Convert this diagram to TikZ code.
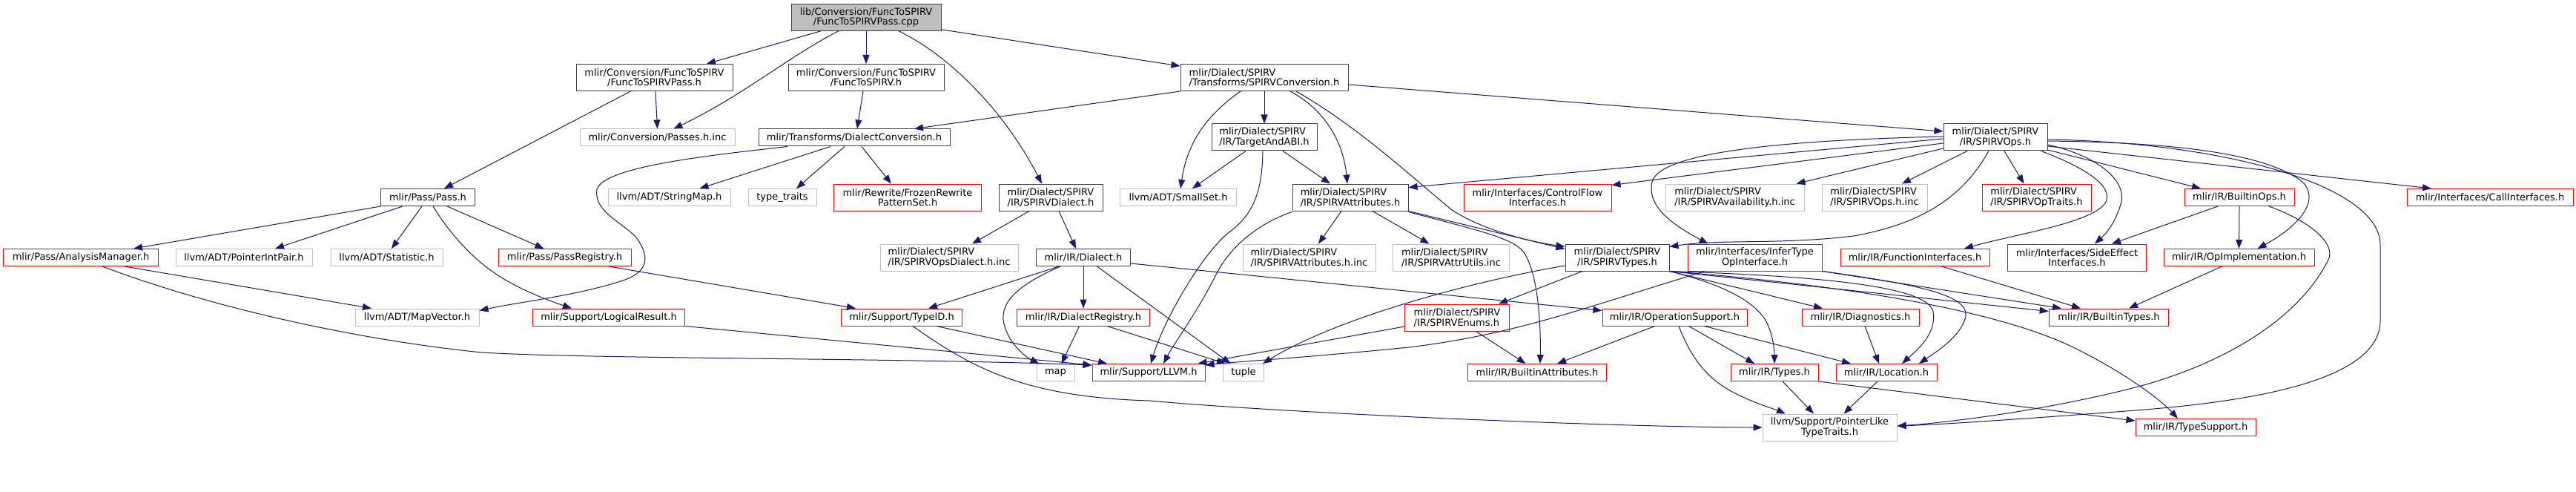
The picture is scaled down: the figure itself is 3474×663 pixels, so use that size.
\documentclass[tikz,border=0pt]{standalone}
\usepackage{fontspec}
\setmainfont{DejaVu Sans}
\usetikzlibrary{arrows.meta}
\definecolor{edgec}{HTML}{191970}
\definecolor{nblk}{HTML}{404040}
\definecolor{ngry}{HTML}{BFBFBF}
\definecolor{nred}{HTML}{FF0000}
\begin{document}
\begin{tikzpicture}[x=1pt,y=-1pt,
 box/.style={rectangle,inner sep=0pt,line width=1pt,align=center,font=\fontsize{13}{13.4}\selectfont,fill=white,text=black},
 nb/.style={box,draw=nblk}, ng/.style={box,draw=ngry}, nr/.style={box,draw=nred},
 sa/.style={minimum height=23pt}, sb/.style={minimum height=36pt},
 e/.style={draw=edgec,line width=1pt,-{Triangle[length=12pt,width=9pt]}}]
\useasboundingbox (0,0) rectangle (3474,663);
% row 1
\node[nb,sb,fill=ngry,minimum width=202pt] (root) at (1168,23.3) {lib/Conversion/FuncToSPIRV\\/FuncToSPIRVPass.cpp};
% row 2
\node[nb,sb,minimum width=211pt] (passh) at (882.5,104.5) {mlir/Conversion/FuncToSPIRV\\/FuncToSPIRVPass.h};
\node[nb,sb,minimum width=210pt] (f2s) at (1168,104.5) {mlir/Conversion/FuncToSPIRV\\/FuncToSPIRV.h};
\node[nb,sb,minimum width=226pt,align=left] (conv) at (1705,104.5) {mlir/Dialect/SPIRV\\/Transforms/SPIRVConversion.h};
% row 3
\node[ng,sa,minimum width=209pt] (passinc) at (886.5,185.5) {mlir/Conversion/Passes.h.inc};
\node[nb,sa,minimum width=258pt] (dconv) at (1152,185.5) {mlir/Transforms/DialectConversion.h};
\node[nb,sb,minimum width=142pt,align=left] (tabi) at (1705,185) {mlir/Dialect/SPIRV\\/IR/TargetAndABI.h};
\node[nb,sb,minimum width=140pt] (ops) at (2691,185) {mlir/Dialect/SPIRV\\/IR/SPIRVOps.h};
% row 4
\node[nb,sa,minimum width=126.5pt] (pass) at (577,266) {mlir/Pass/Pass.h};
\node[ng,sa,minimum width=165pt] (strmap) at (902.5,266) {llvm/ADT/StringMap.h};
\node[ng,sa,minimum width=92pt] (tt) at (1055,266) {type\_traits};
\node[nr,sb,minimum width=198.5pt] (frozen) at (1224,266) {mlir/Rewrite/FrozenRewrite\\PatternSet.h};
\node[nb,sb,minimum width=140pt,align=left] (sdial) at (1417,266) {mlir/Dialect/SPIRV\\/IR/SPIRVDialect.h};
\node[ng,sa,minimum width=156.5pt] (smallset) at (1589,266) {llvm/ADT/SmallSet.h};
\node[nb,sb,minimum width=156pt,align=left] (sattr) at (1821,266) {mlir/Dialect/SPIRV\\/IR/SPIRVAttributes.h};
\node[nr,sb,minimum width=199pt] (cf) at (2073.5,266) {mlir/Interfaces/ControlFlow\\Interfaces.h};
\node[ng,sb,minimum width=187pt,align=left] (avail) at (2339.5,266) {mlir/Dialect/SPIRV\\/IR/SPIRVAvailability.h.inc};
\node[ng,sb,minimum width=142pt,align=left] (opsinc) at (2528,266) {mlir/Dialect/SPIRV\\/IR/SPIRVOps.h.inc};
\node[nr,sb,minimum width=147pt,align=left] (optraits) at (2746.5,266) {mlir/Dialect/SPIRV\\/IR/SPIRVOpTraits.h};
\node[nr,sa,minimum width=148pt] (bops) at (3020,266) {mlir/IR/BuiltinOps.h};
\node[nr,sa,minimum width=224pt] (call) at (3358,266) {mlir/Interfaces/CallInterfaces.h};
% row 5
\node[nr,sa,minimum width=208.5pt] (am) at (109,347) {mlir/Pass/AnalysisManager.h};
\node[ng,sa,minimum width=184pt] (pip) at (329,347) {llvm/ADT/PointerIntPair.h};
\node[ng,sa,minimum width=151pt] (stat) at (521.5,347) {llvm/ADT/Statistic.h};
\node[nr,sa,minimum width=179pt] (preg) at (761.5,347) {mlir/Pass/PassRegistry.h};
\node[ng,sb,minimum width=186pt,align=left] (opsdinc) at (1280,347) {mlir/Dialect/SPIRV\\/IR/SPIRVOpsDialect.h.inc};
\node[nb,sa,minimum width=127pt] (dial) at (1461,347) {mlir/IR/Dialect.h};
\node[ng,sb,minimum width=179pt,align=left] (attrinc) at (1765.5,347) {mlir/Dialect/SPIRV\\/IR/SPIRVAttributes.h.inc};
\node[ng,sb,minimum width=157.5pt,align=left] (attrutils) at (1957,347) {mlir/Dialect/SPIRV\\/IR/SPIRVAttrUtils.inc};
\node[nb,sb,minimum width=140pt] (types) at (2181,347) {mlir/Dialect/SPIRV\\/IR/SPIRVTypes.h};
\node[nr,sb,minimum width=181pt] (infer) at (2366.5,347) {mlir/Interfaces/InferType\\OpInterface.h};
\node[nr,sa,minimum width=201pt] (funcif) at (2582.5,347) {mlir/IR/FunctionInterfaces.h};
\node[nr,sb,minimum width=187pt] (side) at (2801,347) {mlir/Interfaces/SideEffect\\Interfaces.h};
\node[nr,sa,minimum width=203pt] (opimpl) at (3019.5,347) {mlir/IR/OpImplementation.h};
% row 6
\node[ng,sa,minimum width=167pt] (mapvec) at (562.5,427.5) {llvm/ADT/MapVector.h};
\node[nr,sa,minimum width=205.5pt] (logres) at (821,427.5) {mlir/Support/LogicalResult.h};
\node[nr,sa,minimum width=162.5pt] (typeid) at (1216,427.5) {mlir/Support/TypeID.h};
\node[nr,sa,minimum width=179pt] (dreg) at (1461,427.5) {mlir/IR/DialectRegistry.h};
\node[nr,sb,minimum width=140.5pt,align=left] (enums) at (1965,428) {mlir/Dialect/SPIRV\\/IR/SPIRVEnums.h};
\node[nr,sa,minimum width=195pt] (opsup) at (2258.5,427.5) {mlir/IR/OperationSupport.h};
\node[nr,sa,minimum width=158pt] (diag) at (2509,427.5) {mlir/IR/Diagnostics.h};
\node[nr,sa,minimum width=161.5pt] (btypes) at (2844,427.5) {mlir/IR/BuiltinTypes.h};
% row 7
\node[ng,sa,minimum width=51pt] (map) at (1423.5,502) {map};
\node[nr,sa,minimum width=152pt] (llvmh) at (1549,502) {mlir/Support/LLVM.h};
\node[ng,sa,minimum width=55pt] (tuple) at (1677,502) {tuple};
\node[nr,sa,minimum width=187pt] (battr) at (2073,502) {mlir/IR/BuiltinAttributes.h};
\node[nr,sa,minimum width=118pt] (irtypes) at (2393,502) {mlir/IR/Types.h};
\node[nr,sa,minimum width=136pt] (loc) at (2544,502) {mlir/IR/Location.h};
% row 8
\node[ng,sb,minimum width=181pt] (plt) at (2467.5,576) {llvm/Support/PointerLike\\TypeTraits.h};
\node[nr,sa,minimum width=162pt] (tsup) at (2961,576) {mlir/IR/TypeSupport.h};

% edges from root
\draw[e] ([xshift=-61pt]root.south) -- ([xshift=70.5pt]passh.north);
\draw[e] ([xshift=-37pt]root.south) .. controls (1070,72) and (1000,130) .. ([xshift=22pt]passinc.north);
\draw[e] (root.south) -- (f2s.north);
\draw[e] ([xshift=44pt]root.south) .. controls (1290,80) and (1360,160) .. ([xshift=-12pt]sdial.north);
\draw[e] ([yshift=2pt]root.south east) -- ([yshift=-3pt]conv.north west);
% passh, f2s
\draw[e] ([xshift=-32pt]passh.south) -- ([xshift=22pt]pass.north);
\draw[e] ([xshift=1.5pt]passh.south) -- (passinc.north);
\draw[e] ([xshift=-4pt]f2s.south) -- ([xshift=4pt]dconv.north);
% conv
\draw[e] (conv.south west) -- ([xshift=81pt]dconv.north);
\draw[e] ([xshift=-32pt]conv.south) .. controls (1620,160) and (1600,200) .. ([xshift=3pt]smallset.north);
\draw[e] (conv.south) -- (tabi.north);
\draw[e] ([xshift=35pt]conv.south) .. controls (1790,150) and (1812,195) .. ([xshift=-4pt]sattr.north);
\draw[e] ([xshift=43pt]conv.south) .. controls (1830,170) and (1900,235) .. (1958,283) .. controls (2000,310) and (2060,325) .. ([yshift=-4pt]types.north west);
\draw[e] ([yshift=-9.5pt]conv.east) -- ([yshift=8pt]ops.west);
% dconv
\draw[e] ([xshift=-90pt]dconv.south) .. controls (950,210) and (815,225) .. (805,255) .. controls (800,285) and (840,300) .. (858,320) .. controls (880,350) and (870,368) .. (840,378) .. controls (780,398) and (700,407) .. ([yshift=-3pt]mapvec.north east);
\draw[e] ([xshift=-32pt]dconv.south) -- ([xshift=41pt]strmap.north);
\draw[e] ([xshift=-13pt]dconv.south) -- ([xshift=19pt]tt.north);
\draw[e] ([xshift=10pt]dconv.south) -- ([xshift=-22pt]frozen.north);
% tabi
\draw[e] ([xshift=-25pt]tabi.south) -- ([xshift=19pt]smallset.north);
\draw[e] ([xshift=25pt]tabi.south) -- ([xshift=-27pt]sattr.north);
\draw[e] ([xshift=-2pt]tabi.south) .. controls (1702,260) and (1690,290) .. (1655,315) .. controls (1620,345) and (1570,430) .. ([xshift=3pt]llvmh.north);
% pass
\draw[e] (pass.south west) -- ([xshift=71pt]am.north);
\draw[e] ([xshift=-34pt]pass.south) -- ([xshift=42pt]pip.north);
\draw[e] ([xshift=-8pt]pass.south) -- ([xshift=6.5pt]stat.north);
\draw[e] ([xshift=26pt]pass.south) -- ([xshift=-28pt]preg.north);
\draw[e] ([xshift=7pt]pass.south) .. controls (610,320) and (640,350) .. (670,370) .. controls (700,390) and (740,405) .. ([xshift=-50pt]logres.north);
% am, logres, preg, typeid
\draw[e] ([xshift=59pt]am.south) -- ([xshift=-61.5pt]mapvec.north);
\draw[e] ([xshift=29pt]am.south) .. controls (300,420) and (500,460) .. (650,475) .. controls (800,484) and (1200,482) .. ([yshift=-2pt]llvmh.north west);
\draw[e] (logres.south east) -- ([yshift=-2pt]llvmh.north west);
\draw[e] ([xshift=59.5pt]preg.south) -- ([xshift=-62pt]typeid.north);
\draw[e] ([xshift=47pt]typeid.south) -- ([xshift=-56pt]llvmh.north);
\draw[e] ([xshift=15pt]typeid.south) .. controls (1310,495) and (1380,535) .. (1550,540) .. controls (1750,558) and (2200,576) .. (plt.west);
% sdial
\draw[e] ([xshift=-29pt]sdial.south) -- ([xshift=31pt]opsdinc.north);
\draw[e] ([xshift=11pt]sdial.south) -- ([xshift=-10pt]dial.north);
% dial, dreg
\draw[e] ([xshift=-33pt]dial.south) -- ([xshift=36pt]typeid.north);
\draw[e] ([xshift=-31pt]dial.south) .. controls (1370,385) and (1345,410) .. (1355,440) .. controls (1362,465) and (1385,482) .. ([xshift=-22pt]map.north);
\draw[e] (dial.south) -- (dreg.north);
\draw[e] ([xshift=18.5pt]dial.south) -- ([xshift=-17.5pt]tuple.north);
\draw[e] ([yshift=-8pt]dial.east) -- ([yshift=9pt]opsup.west);
\draw[e] ([xshift=-5.5pt]dreg.south) -- ([xshift=8pt]map.north);
\draw[e] ([xshift=32pt]dreg.south) -- ([xshift=-24pt]tuple.north);
% sattr
\draw[e] ([xshift=-12pt]sattr.south) -- ([xshift=12.5pt]attrinc.north);
\draw[e] ([xshift=30pt]sattr.south) -- ([xshift=-29.5pt]attrutils.north);
\draw[e] (sattr.south east) -- ([yshift=-7pt]types.north west);
\draw[e] ([yshift=-1pt]sattr.south east) .. controls (1990,310) and (2040,320) .. (2055,340) .. controls (2075,370) and (2078,440) .. ([xshift=4pt]battr.north);
\draw[e] ([yshift=-1pt]sattr.south west) .. controls (1700,300) and (1660,330) .. (1640,370) .. controls (1615,420) and (1585,460) .. ([xshift=20pt]llvmh.north);
% ops
\draw[e] ([yshift=-2pt]ops.west) -- ([yshift=13.5pt]sattr.east);
\draw[e] ([yshift=-8pt]ops.west) -- ([yshift=-2pt]cf.north east);
\draw[e] ([yshift=-15pt]ops.west) -- ([xshift=83pt]avail.north);
\draw[e] ([yshift=1pt]ops.west) .. controls (2450,188) and (2240,200) .. (2228,245) .. controls (2220,280) and (2260,305) .. ([xshift=-63pt]infer.north);
\draw[e] ([xshift=-38pt]ops.south) -- ([xshift=37pt]opsinc.north);
\draw[e] ([xshift=-9pt]ops.south) .. controls (2650,260) and (2600,300) .. (2500,318) .. controls (2400,330) and (2320,322) .. ([yshift=-4pt]types.north east);
\draw[e] ([xshift=12pt]ops.south) -- ([xshift=-17pt]optraits.north);
\draw[e] ([xshift=61.5pt]ops.south) .. controls (2810,225) and (2850,250) .. (2840,272) .. controls (2825,300) and (2720,315) .. ([xshift=66.5pt]funcif.north);
\draw[e] ([yshift=-10pt]ops.east) .. controls (2830,210) and (2870,245) .. (2860,275) .. controls (2853,300) and (2840,315) .. ([xshift=24pt]side.north);
\draw[e] ([yshift=-17pt]ops.east) -- ([xshift=-52pt]bops.north);
\draw[e] ([yshift=-5pt]ops.east) .. controls (2950,192) and (3060,210) .. (3105,245) .. controls (3130,270) and (3100,305) .. ([xshift=25pt]opimpl.north);
\draw[e] ([yshift=-12pt]ops.east) -- ([xshift=-79pt]call.north);
\draw[e] ([yshift=-3pt]ops.east) .. controls (3000,192) and (3210,250) .. (3210,330) -- (3210,432) .. controls (3210,510) and (3050,540) .. (2880,553) .. controls (2750,563) and (2620,572) .. ([yshift=2pt]plt.east);
% types
\draw[e] ([xshift=-47pt]types.south) -- ([xshift=56pt]enums.north);
\draw[e] ([yshift=-11pt]types.west) .. controls (1980,380) and (1800,430) .. ([xshift=-2pt]tuple.north east);
\draw[e] (types.south east) -- ([xshift=-51pt]diag.north);
\draw[e] (types.south east) .. controls (2310,380) and (2360,400) .. (2380,430) .. controls (2392,450) and (2393,475) .. (irtypes.north);
\draw[e] (types.south east) .. controls (2450,372) and (2600,385) .. (2607,420) .. controls (2612,450) and (2585,472) .. ([xshift=21pt]loc.north);
\draw[e] (types.south east) -- ([yshift=-4pt]btypes.north west);
\draw[e] (types.south east) .. controls (2500,385) and (2700,420) .. (2800,470) .. controls (2870,505) and (2915,540) .. ([xshift=-24pt]tsup.north);
% infer
\draw[e] ([xshift=-67pt]infer.south) .. controls (2150,410) and (2050,450) .. (1900,468) .. controls (1760,482) and (1660,488) .. ([yshift=-2pt]llvmh.north east);
\draw[e] (infer.south east) -- ([xshift=-64pt]btypes.north);
\draw[e] (infer.south east) .. controls (2600,385) and (2660,400) .. (2650,430) .. controls (2642,455) and (2610,475) .. ([xshift=44pt]loc.north);
% enums
\draw[e] ([yshift=-12pt]enums.west) -- ([xshift=-10pt]llvmh.north east);
\draw[e] ([xshift=25.5pt]enums.south) -- ([xshift=-15.5pt]battr.north);
% opsup
\draw[e] ([xshift=-27pt]opsup.south) -- ([xshift=27pt]battr.north);
\draw[e] ([xshift=5.5pt]opsup.south) .. controls (2280,480) and (2300,510) .. (2340,530) .. controls (2370,545) and (2395,552) .. ([xshift=-59.5pt]plt.north);
\draw[e] ([xshift=19pt]opsup.south) -- ([xshift=-27pt]irtypes.north);
\draw[e] ([xshift=40pt]opsup.south) -- ([xshift=-48pt]loc.north);
% others
\draw[e] ([xshift=6pt]diag.south) -- ([xshift=-10pt]loc.north);
\draw[e] ([xshift=11pt]irtypes.south) -- ([xshift=-21.5pt]plt.north);
\draw[e] (irtypes.south east) -- ([yshift=-3pt]tsup.north west);
\draw[e] ([xshift=-12pt]loc.south) -- ([xshift=19pt]plt.north);
\draw[e] ([xshift=36pt]funcif.south) -- ([xshift=-38pt]btypes.north);
\draw[e] ([xshift=-29pt]bops.south) -- ([xshift=47pt]side.north);
\draw[e] (bops.south) -- (opimpl.north);
\draw[e] ([xshift=40pt]bops.south) .. controls (3120,300) and (3150,330) .. (3140,350) .. controls (3100,430) and (3000,490) .. (2880,522) .. controls (2750,555) and (2620,570) .. ([yshift=2pt]plt.east);
\draw[e] ([xshift=-23pt]opimpl.south) -- ([xshift=27pt]btypes.north);
\end{tikzpicture}
\end{document}
